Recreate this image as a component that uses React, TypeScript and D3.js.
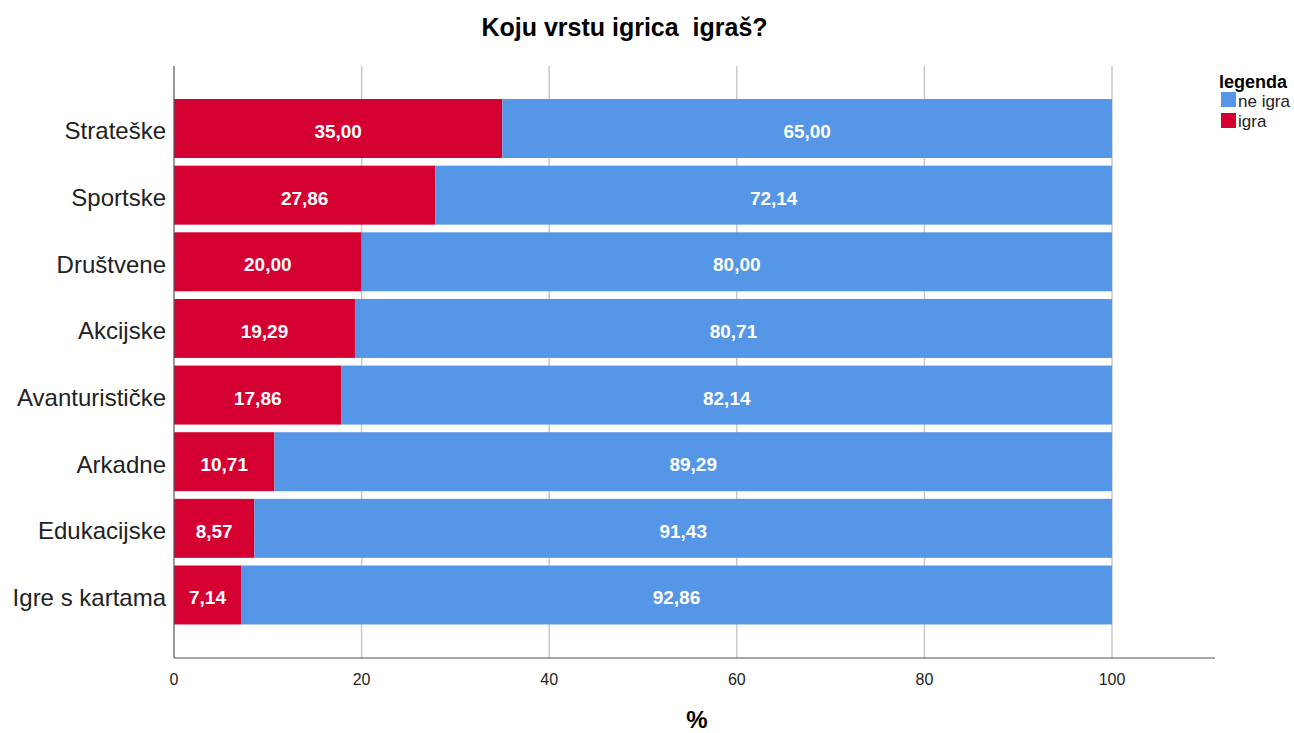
import React from "react";
import * as d3 from "d3";

const categories = ["Strateške", "Sportske", "Društvene", "Akcijske", "Avanturističke", "Arkadne", "Edukacijske", "Igre s kartama"];
const igra = [35.0, 27.86, 20.0, 19.29, 17.86, 10.71, 8.57, 7.14];
const neIgra = [65.0, 72.14, 80.0, 80.71, 82.14, 89.29, 91.43, 92.86];
const xTicks = [0, 20, 40, 60, 80, 100];

const RED = "#D50032";
const BLUE = "#5596E6";

export default function App() {
  const W = 1294, H = 733;
  const x = d3.scaleLinear().domain([0, 100]).range([174, 1112]);
  const y = d3.scaleBand<string>().domain(categories).range([95.2, 628.3]).paddingInner(0.115).paddingOuter(0.0575);
  const plotTop = 66, plotBottom = 658, plotRight = 1215;
  const fmt = (v: number) => v.toFixed(2).replace(".", ",");
  const font = "'Liberation Sans', Arial, sans-serif";
  return (
    <svg width={W} height={H} style={{ position: "absolute", left: 0, top: 0, background: "#fff" }} fontFamily={font}>
      <rect x={0} y={0} width={W} height={H} fill="#fff" />
      <text x={624.5} y={36} textAnchor="middle" fontSize={25} fontWeight="bold" fill="#000" style={{ whiteSpace: "pre" }}>{"Koju vrstu igrica  igraš?"}</text>
      {xTicks.filter(t => t > 0).map(t => (
        <line key={t} x1={x(t)} x2={x(t)} y1={plotTop} y2={plotBottom} stroke="#C8C8C8" strokeWidth={1.5} />
      ))}
      {categories.map((c, i) => {
        const yy = y(c)!;
        const bh = y.bandwidth();
        return (
          <g key={c}>
            <rect x={x(0)} y={yy} width={x(igra[i]) - x(0)} height={bh} fill={RED} />
            <rect x={x(igra[i])} y={yy} width={x(igra[i] + neIgra[i]) - x(igra[i])} height={bh} fill={BLUE} />
            <text x={(x(0) + x(igra[i])) / 2} y={yy + bh / 2} dy="0.5em" textAnchor="middle" fill="#fff" fontWeight="bold" fontSize={19}>{fmt(igra[i])}</text>
            <text x={(x(igra[i]) + x(igra[i] + neIgra[i])) / 2} y={yy + bh / 2} dy="0.5em" textAnchor="middle" fill="#fff" fontWeight="bold" fontSize={19}>{fmt(neIgra[i])}</text>
            <text x={166} y={yy + bh / 2} dy="0.45em" textAnchor="end" fontSize={24} fill="#222">{c}</text>
          </g>
        );
      })}
      <line x1={174} x2={174} y1={plotTop} y2={plotBottom} stroke="#555" strokeWidth={1.2} />
      <line x1={174} x2={plotRight} y1={plotBottom} y2={plotBottom} stroke="#555" strokeWidth={1.2} />
      {xTicks.map(t => (
        <text key={t} x={x(t)} y={685} textAnchor="middle" fontSize={16} fill="#222">{t}</text>
      ))}
      <text x={697} y={728} textAnchor="middle" fontSize={24} fontWeight="bold" fill="#000">%</text>
      <text x={1219} y={88} fontSize={18} fontWeight="bold" fill="#000">legenda</text>
      <rect x={1221} y={92} width={15} height={15} fill={BLUE} />
      <text x={1238} y={107} fontSize={17} fill="#222">ne igra</text>
      <rect x={1221} y={113} width={15} height={15} fill={RED} />
      <text x={1238} y={127} fontSize={17} fill="#222">igra</text>
    </svg>
  );
}
